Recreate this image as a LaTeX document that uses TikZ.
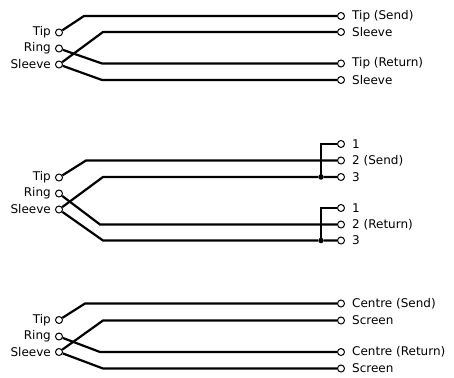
\documentclass[tikz,border=0pt]{standalone}
\usepackage{fontspec}
\setmainfont{DejaVu Sans}
\begin{document}
\begin{tikzpicture}[x=1pt,y=-1pt,
  jack/.style={circle,draw,line width=1pt,fill=white,minimum size=7pt,inner sep=0pt},
  wire/.style={line width=2.2pt,line join=miter},
  lbl/.style={font=\fontsize{12}{14}\selectfont,inner sep=0pt},
  ljack/.style={jack,label={[lbl,label distance=4pt]left:#1}},
  rjack/.style={jack,label={[lbl,label distance=7pt]right:#1}},
  junction/.style={circle,fill=black,minimum size=5.5pt,inner sep=0pt}]
\useasboundingbox (0,0) rectangle (454,377);

% ---------- Panel 1 ----------
\node[ljack=Tip]    (aT) at (59,32.5) {};
\node[ljack=Ring]   (aR) at (59,48.5) {};
\node[ljack=Sleeve] (aS) at (59,64.5) {};
\node[rjack=Tip (Send)]   (a1) at (341,16) {};
\node[rjack=Sleeve]       (a2) at (341,32) {};
\node[rjack=Tip (Return)] (a3) at (341,63.5) {};
\node[rjack=Sleeve]       (a4) at (341,80) {};
\draw[wire] (aT) -- (84,16) -- (a1);
\draw[wire] (aS) -- (103,32) -- (a2);
\draw[wire] (aR) -- (102,63.5) -- (a3);
\draw[wire] (aS) -- (102,80) -- (a4);

% ---------- Panel 2 ----------
\node[ljack=Tip]    (bT) at (59,177.5) {};
\node[ljack=Ring]   (bR) at (59,193.5) {};
\node[ljack=Sleeve] (bS) at (59,209.5) {};
\node[rjack=1]          (b1) at (341,144) {};
\node[rjack=2 (Send)]   (b2) at (341,160.5) {};
\node[rjack=3]          (b3) at (341,177) {};
\node[rjack=1]          (b4) at (341,208) {};
\node[rjack=2 (Return)] (b5) at (341,224.5) {};
\node[rjack=3]          (b6) at (341,240.5) {};
\node[junction] (bj1) at (321,177) {};
\node[junction] (bj2) at (321,240.5) {};
\draw[wire] (bT) -- (86,160.5) -- (b2);
\draw[wire] (bS) -- (103,177) -- (bj1) -- (b3);
\draw[wire] (bR) -- (100,224.5) -- (b5);
\draw[wire] (bS) -- (103,240.5) -- (bj2) -- (b6);
\draw[wire] (bj1.center) |- (b1);
\draw[wire] (bj2.center) |- (b4);

% ---------- Panel 3 ----------
\node[ljack=Tip]    (cT) at (59,320) {};
\node[ljack=Ring]   (cR) at (59,336.5) {};
\node[ljack=Sleeve] (cS) at (59,352) {};
\node[rjack=Centre (Send)]   (c1) at (341,303.5) {};
\node[rjack=Screen]          (c2) at (341,320.5) {};
\node[rjack=Centre (Return)] (c3) at (341,352) {};
\node[rjack=Screen]          (c4) at (341,368.5) {};
\draw[wire] (cT) -- (85,303.5) -- (c1);
\draw[wire] (cS) -- (103,320.5) -- (c2);
\draw[wire] (cR) -- (100,352) -- (c3);
\draw[wire] (cS) -- (103,368.5) -- (c4);
\end{tikzpicture}
\end{document}
